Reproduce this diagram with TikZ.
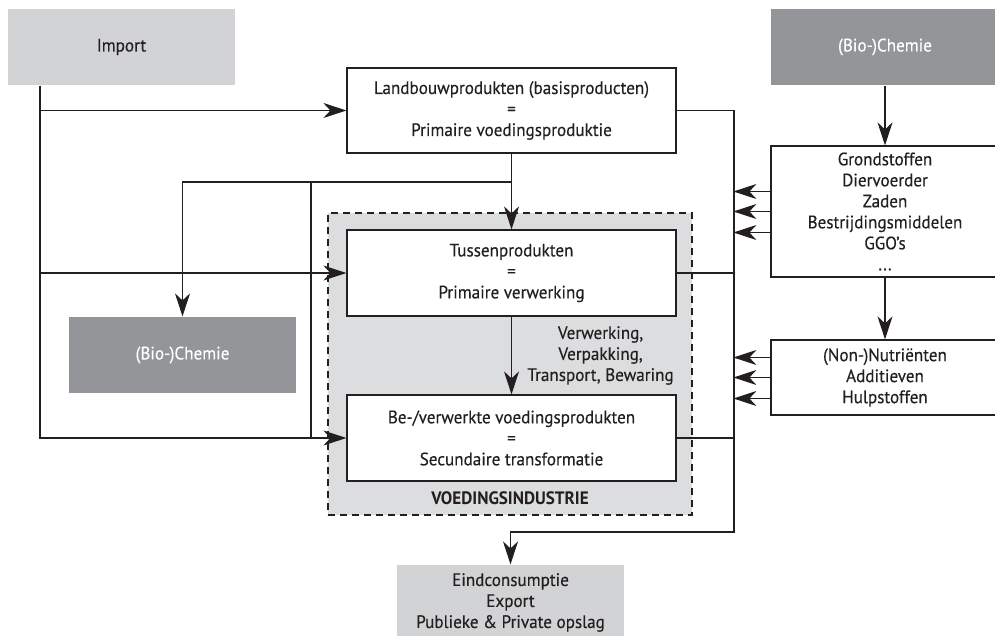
\documentclass[tikz,border=0pt]{standalone}
\usepackage{fontspec}
\setmainfont{PT Sans}[FakeStretch=0.95,
  UprightFeatures={FakeBold=0.3}]
\usepackage{xcolor}
\definecolor{InkBlack}{RGB}{35,31,32}
\definecolor{PaleGrey}{RGB}{209,211,212}
\definecolor{ZoneGrey}{RGB}{220,221,222}
\definecolor{SlateGrey}{RGB}{147,149,152}
\usepackage{tikz}
\usetikzlibrary{math,arrows.meta}
\tikzset{%
  box/.style={draw=InkBlack, line width=1.2pt, fill=white, align=center,
    inner sep=0pt, text=InkBlack, font=\fontsize{18}{21}\selectfont},
  light box/.style={box, draw=none, fill=PaleGrey},
  dark box/.style={box, draw=none, fill=SlateGrey, text=white},
  zone/.style={draw=InkBlack, line width=2pt, dash pattern=on 7pt off 5pt,
    fill=ZoneGrey},
  link/.style={draw=InkBlack, line width=1.2pt},
  flow/.style={link, -{Stealth[length=23pt,width=15pt,inset=7pt]}},
  note/.style={align=center, text=InkBlack, font=\fontsize{18}{21}\selectfont}
}
\begin{document}
\begin{tikzpicture}[x=1pt,y=-1pt]
    \tikzmath{
      \busL=40;
      \busM=311;
      \busR=734;
      \yLoop=182;
      \yOut=532;
    }
    \useasboundingbox (0,0) rectangle (995,636);
    \node[zone, minimum width=364pt, minimum height=302pt] (industry) at (510,364) {};
    \node[note, font=\fontsize{18}{21}\selectfont\bfseries] (industryLabel)
      at ([yshift=18pt]industry.south) {VOEDINGSINDUSTRIE};

    \node[light box, minimum width=227pt, minimum height=76pt] (import) at (121.5,47) {Import};
    \node[dark box, minimum width=228pt, minimum height=76pt] (chemTop) at (885,47) {(Bio-)Chemie};
    \node[box, minimum width=329pt, minimum height=85pt] (landbouw) at (511.5,110.5)
      {Landbouwprodukten (basisproducten)\\=\\Primaire voedingsproduktie};
    \node[box, minimum width=228pt, minimum height=131pt] (grond) at (885,211.5)
      {Grondstoffen\\Diervoerder\\Zaden\\Bestrijdingsmiddelen\\GGO’s\\...};
    \node[box, minimum width=228pt, minimum height=75pt] (nutri) at (885,377.5)
      {(Non-)Nutriënten\\Additieven\\Hulpstoffen};
    \node[box, minimum width=329pt, minimum height=86pt] (tussen) at (511.5,273)
      {Tussenprodukten\\=\\Primaire verwerking};
    \node[box, minimum width=329pt, minimum height=86pt] (bewerkt) at (511.5,438)
      {Be-/verwerkte voedingsprodukten\\=\\Secundaire transformatie};
    \node[dark box, minimum width=227pt, minimum height=76pt] (chemLeft) at (182.5,355) {(Bio-)Chemie};
    \node[light box, minimum width=227pt, minimum height=75pt] (eind) at (510.5,602.5)
      {Eindconsumptie\\Export\\Publieke \& Private opslag};

    \coordinate (trunk) at (\busL,0);
    \coordinate (loop) at (511.5,\yLoop);
    \coordinate (join) at (\busM,\yLoop);
    \coordinate (out) at (\busR,\yOut);

    % import
    \draw[flow] (import.south -| trunk) |- (landbouw.west);
    \draw[flow] (import.south -| trunk) |- (tussen.west);
    \draw[flow] (import.south -| trunk) |- (bewerkt.west);
    % chain
    \draw[flow] (landbouw) -- (tussen);
    \draw[flow] (loop) -| (chemLeft.north);
    \draw[link] (join) -- (join |- bewerkt.west);
    \draw[flow] (tussen) -- node[note, right=12pt]
      {Verwerking,\\Verpakking,\\Transport, Bewaring} (bewerkt);
    \draw[flow] (landbouw.east) -| (out) -| (eind.north);
    \draw[link] (tussen.east) -- (tussen.east -| out);
    \draw[link] (bewerkt.east) -- (bewerkt.east -| out);
    % supplies
    \draw[flow] (chemTop) -- (grond);
    \draw[flow] (grond) -- (nutri);
    \foreach \dy in {20,0,-21} {
      \draw[flow] ([yshift=\dy pt]grond.west) -- ++(-37,0);
      \draw[flow] ([yshift=\dy pt]nutri.west) -- ++(-37,0);
    }
\end{tikzpicture}
\end{document}
